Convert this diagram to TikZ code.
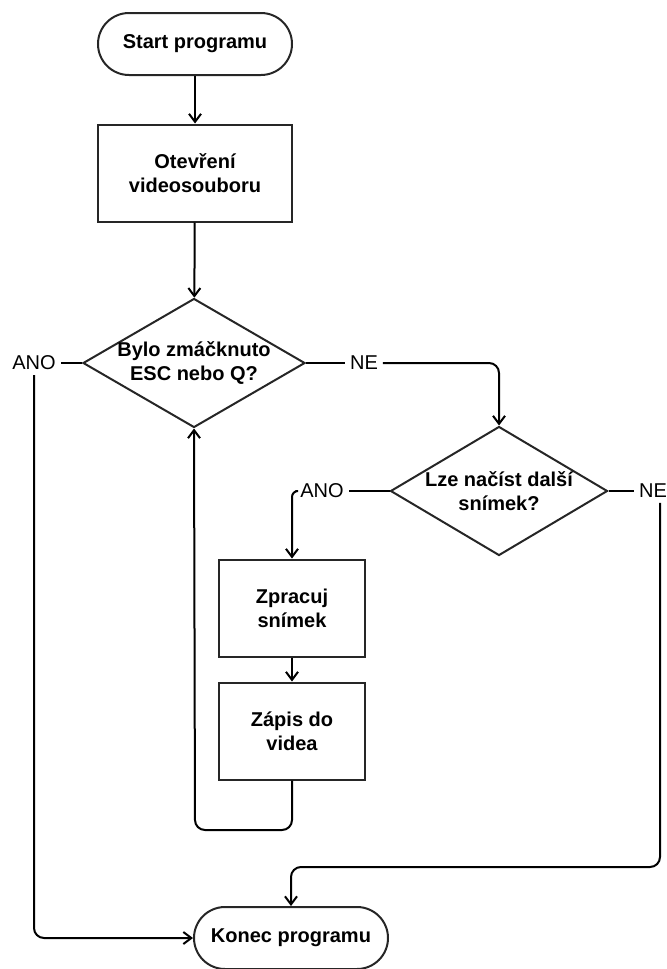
\documentclass[tikz,border=0pt]{standalone}
\usepackage{fontspec}
\setmainfont{Liberation Sans}
\usetikzlibrary{shapes.geometric,arrows.meta}

\begin{document}
\begin{tikzpicture}[x=0.5pt,y=-0.5pt,line width=1pt,
  >={Straight Barb[length=4pt,width=6pt]},
  term/.style={draw=black!85,rounded corners=15.5pt,minimum width=97pt,minimum height=31pt,font=\bfseries,align=center},
  proc/.style={draw=black!85,minimum width=#1,minimum height=48.5pt,font=\bfseries,align=center},
  proc/.default=97pt,
  dec/.style={draw=black!85,diamond,aspect=1.72,inner sep=-3pt,minimum width=111pt,minimum height=64.5pt,font=\bfseries,align=center},
  lbl/.style={inner sep=2pt},
  flow/.style={draw=black,rounded corners=5pt}]
 \useasboundingbox (0,0) rectangle (667,969);
 \node[term] (start) at (195,44) {Start programu};
 \node[proc] (open) at (195,173) {Otevření\\videosouboru};
 \node[dec] (key) at (194,363) {Bylo zmáčknuto\\ESC nebo Q?};
 \node[dec,minimum width=108.5pt] (frame) at (499,491) {Lze načíst další\\snímek?};
 \node[proc=73pt] (work) at (292,608) {Zpracuj\\snímek};
 \node[proc=73pt] (save) at (292,731) {Zápis do\\videa};
 \node[term] (stop) at (291,938) {Konec programu};
 \node[lbl] (ano_1) at (34,363) {ANO};
 \node[lbl] (ne_1) at (364,363) {NE};
 \node[lbl] (ano_2) at (322,491) {ANO};
 \node[lbl] (ne_2) at (653,491) {NE};
 \coordinate (c_ne) at (660,867);
 \coordinate (c_loop) at (195,830);
 \path[->,flow]
  (start) edge (open)
  (open) edge (key)
  (work) edge (save);
 \draw[flow] (key.west) -- (ano_1.east);
 \draw[->,flow] (ano_1.south) |- (stop.west);
 \draw[flow] (key.east) -- (ne_1.west);
 \draw[->,flow] (ne_1.east) -| (frame.north);
 \draw[flow] (frame.west) -- (ano_2.east);
 \draw[->,flow,rounded corners=3pt] (ano_2.west) -| (work.north);
 \draw[flow] (frame.east) -- (ne_2.west);
 \draw[->,flow] (ne_2.south -| c_ne) -- (c_ne) -| (stop.north);
 \draw[->,flow] (save.south) |- (c_loop) -- (key.south);
\end{tikzpicture}
\end{document}
